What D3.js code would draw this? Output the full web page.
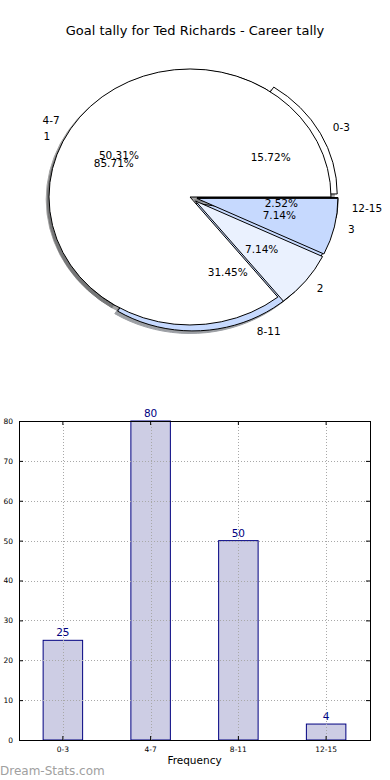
<!DOCTYPE html>
<html>
<head>
<meta charset="utf-8">
<script src="https://cdn.jsdelivr.net/npm/d3@7"></script>
<style>
  html, body { margin: 0; padding: 0; background: #fff; }
  svg { display: block; font-family: "DejaVu Sans", sans-serif; }
</style>
</head>
<body>
<svg id="chart" width="390" height="780"></svg>
<script>
// ---- data ----
const goalCategories = ["0-3", "4-7", "8-11", "12-15"];
const goalCounts = [25, 80, 50, 4];
const careerCategories = ["1", "2", "3"];
const careerCounts = [12, 1, 1];
const pieColors = ["#ffffff", "#eaf1fe", "#c6d9fe"];
const goalExplode = [0.05, 0, 0.05, 0.05];
const careerExplode = [0, 0.05, 0.05];
const yTickValues = [0, 10, 20, 30, 40, 50, 60, 70, 80];
const titleText = "Goal tally for Ted Richards - Career tally";

(function () {
const svg = d3.select("#chart");

// ---- title ----
svg.append("text").attr("x", 195).attr("y", 35).attr("text-anchor", "middle")
  .attr("font-size", 13).attr("fill", "#000").text(titleText);

// ---- pie (elliptical, matplotlib-style) ----
const cx = 190, cy = 197, rx = 141, ry = 128;
const pie = d3.pie().sort(null).startAngle(Math.PI / 2).endAngle(Math.PI / 2 - 2 * Math.PI);
const arcUnit = d3.arc().innerRadius(0).outerRadius(1);

function build(values, labels, explode) {
  const total = d3.sum(values);
  return pie(values).map((d, i) => ({
    ...d, label: labels[i], explode: explode[i],
    color: pieColors[i % pieColors.length],
    pct: (100 * values[i] / total).toFixed(2) + "%",
    mid: (d.startAngle + d.endAngle) / 2
  }));
}
const outer = build(goalCounts, goalCategories, goalExplode);
const inner = build(careerCounts, careerCategories, careerExplode);
const all = outer.concat(inner);

const pieG = svg.append("g").attr("transform", `translate(${cx},${cy}) scale(${rx},${ry})`);

function shadowColor(c) {
  const k = d3.rgb(c);
  return d3.rgb(k.r * 0.3, k.g * 0.3, k.b * 0.3).toString();
}
pieG.selectAll("path.shadow").data(all).join("path")
  .attr("class", "shadow")
  .attr("transform", d => `translate(${d.explode * Math.sin(d.mid) - 0.02},${-d.explode * Math.cos(d.mid) + 0.02})`)
  .attr("d", arcUnit)
  .attr("fill", d => shadowColor(d.color))
  .attr("stroke", d => shadowColor(d.color))
  .attr("stroke-width", 1)
  .attr("vector-effect", "non-scaling-stroke")
  .attr("opacity", 0.5);

pieG.selectAll("path.wedge").data(all).join("path")
  .attr("class", "wedge")
  .attr("transform", d => `translate(${d.explode * Math.sin(d.mid)},${-d.explode * Math.cos(d.mid)})`)
  .attr("d", arcUnit)
  .attr("fill", d => d.color)
  .attr("stroke", "#000")
  .attr("stroke-width", 1)
  .attr("vector-effect", "non-scaling-stroke");

function pos(d, r) {
  return [cx + (r + d.explode) * rx * Math.sin(d.mid), cy - (r + d.explode) * ry * Math.cos(d.mid)];
}
const textG = svg.append("g").attr("font-size", 10.5).attr("fill", "#000");
all.forEach(d => {
  const [lx, ly] = pos(d, 1.1);
  textG.append("text").attr("x", lx).attr("y", ly).attr("dy", "0.35em")
    .attr("text-anchor", lx > cx ? "start" : "end").text(d.label);
  const [px, py] = pos(d, 0.6);
  textG.append("text").attr("x", px).attr("y", py).attr("dy", "0.35em")
    .attr("text-anchor", "middle").text(d.pct);
});

// ---- bar chart ----
const pL = 19, pR = 370, pT = 421, pB = 740;
const x = d3.scaleBand().domain(goalCategories).range([pL, pR]).padding(0);
const y = d3.scaleLinear().domain([0, 80]).range([pB, pT]);
const barW = x.bandwidth() * 0.45;
const barG = svg.append("g");

barG.selectAll("rect.bar").data(goalCounts).join("rect")
  .attr("class", "bar")
  .attr("x", (d, i) => x(goalCategories[i]) + x.bandwidth() / 2 - barW / 2)
  .attr("y", d => y(d))
  .attr("width", barW)
  .attr("height", d => y(0) - y(d))
  .attr("fill", "#cdcde4")
  .attr("stroke", "#000080")
  .attr("stroke-width", 1);

const gridG = svg.append("g").attr("stroke", "#a8a8a8").attr("stroke-width", 1).attr("stroke-dasharray", "1,2");
gridG.selectAll("line.gy").data(yTickValues).join("line")
  .attr("x1", pL).attr("x2", pR).attr("y1", d => Math.round(y(d)) + 0.5).attr("y2", d => Math.round(y(d)) + 0.5);
gridG.selectAll("line.gx").data(goalCategories).join("line")
  .attr("y1", pT).attr("y2", pB)
  .attr("x1", d => Math.round(x(d) + x.bandwidth() / 2) + 0.5).attr("x2", d => Math.round(x(d) + x.bandwidth() / 2) + 0.5);

barG.selectAll("text.val").data(goalCounts).join("text")
  .attr("class", "val")
  .attr("x", (d, i) => x(goalCategories[i]) + x.bandwidth() / 2)
  .attr("y", d => y(d) - 4)
  .attr("text-anchor", "middle").attr("font-size", 10.5).attr("fill", "#000080")
  .text(d => d);

const yAxis = d3.axisLeft(y).tickValues(yTickValues).tickSize(-4).tickPadding(6);
svg.append("g").attr("transform", `translate(${pL},0)`).call(yAxis)
  .call(g => g.select(".domain").remove())
  .call(g => g.selectAll("text").attr("font-size", 7.5).attr("fill", "#000").attr("font-family", "DejaVu Sans, sans-serif"));
const yAxisR = d3.axisRight(y).tickValues(yTickValues).tickSize(-4).tickFormat("");
svg.append("g").attr("transform", `translate(${pR},0)`).call(yAxisR).call(g => g.select(".domain").remove());

const xAxis = d3.axisBottom(x).tickSize(-4).tickPadding(7);
svg.append("g").attr("transform", `translate(0,${pB})`).call(xAxis)
  .call(g => g.select(".domain").remove())
  .call(g => g.selectAll("text").attr("font-size", 7.5).attr("fill", "#000").attr("font-family", "DejaVu Sans, sans-serif"));
const xAxisT = d3.axisTop(x).tickSize(-4).tickFormat("");
svg.append("g").attr("transform", `translate(0,${pT})`).call(xAxisT).call(g => g.select(".domain").remove());

svg.append("rect").attr("x", pL + 0.5).attr("y", pT + 0.5).attr("width", pR - pL).attr("height", pB - pT)
  .attr("fill", "none").attr("stroke", "#000").attr("stroke-width", 1);

svg.append("text").attr("x", (pL + pR) / 2).attr("y", 764).attr("text-anchor", "middle")
  .attr("font-size", 10.5).attr("fill", "#000").text("Frequency");

svg.append("text").attr("x", 0).attr("y", 775).attr("font-size", 12).attr("fill", "#a0a0a0")
  .text("Dream-Stats.com");
})();
</script>
</body>
</html>
